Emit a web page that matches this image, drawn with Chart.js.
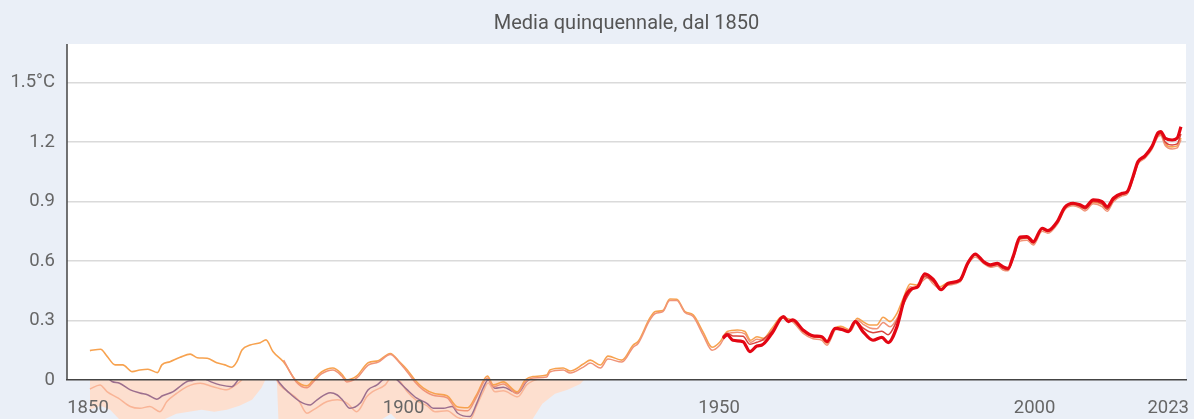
<!DOCTYPE html>
<html lang="it">
<head>
<meta charset="utf-8">
<title>Media quinquennale, dal 1850</title>
<script src="https://cdn.jsdelivr.net/npm/chart.js@4/dist/chart.umd.min.js"></script>
<style>
  html, body { margin: 0; padding: 0; background: #eaeff7; }
  #box { width: 1194px; height: 419px; position: relative; }
</style>
</head>
<body>
<div id="box"><canvas id="grafico"></canvas></div>
<script>
// anomalie medie su 5 anni (°C)
const anniArancio = [1850.3,1852,1853,1854.3,1855.5,1857,1858.2,1859.5,1861,1861.7,1863,1864.6,1866.2,1867.3,1868.9,1870.4,1871.7,1872.8,1873.6,1874.4,1875.7,1877.3,1878.2,1879.3,
  1881,1883,1884.7,1885.7,1887,1888.8,1890.2,1891,1892.6,1894.4,1896,1897.9,1899.4,1900.6,1901.8,1903.1,1905,1906.9,1908.5,1910.2,
  1911.5,1913.3,1914.2,1915.8,1918,1919.3,1920.5,1922.7,1923.2,1925.3,1926.4,1928.5,1929.6,1931.2,1932.4,1934.6,1936.4,1937.2,1939,1939.9,
  1941.1,1942.2,1943.3,1944.6,1945.9,1947.5,1948.9,1950.1,1951.3,1952.9,1954.1,1955,1956,1957,1958.4,1960,1960.8,1961.7,1963.3,1964.9,
  1966.3,1967.1,1968.4,1969.3,1970.8,1971.9,1972.8,1973.9,1975,1976,1977.1,1978.2,1979.2,1980.3,1981.3,1982.3,1983,1983.9,1985,1986.3,
  1988.2,1989.4,1990.6,1991.9,1993,1994.1,1995,1995.8,1996.6,1997.7,1998.8,1999.8,2001.2,2002.1,2003.6,2004.8,2006.1,2007.2,2008,2009.3,
  2010.7,2011.5,2012.5,2013.9,2014.7,2015.6,2016.4,2017.5,2018.6,2019.6,2020,2020.7,2021.8,2022.6,2023.2];
const valoriArancio = [0.148,0.155,0.12,0.076,0.076,0.042,0.05,0.054,0.037,0.076,0.092,0.114,0.13,0.112,0.109,0.087,0.076,0.064,0.092,0.151,0.176,0.188,0.202,0.143,
  0.09,-0.005,-0.03,0,0.04,0.06,0.03,0,0.02,0.087,0.097,0.133,0.09,0.05,0,-0.04,-0.07,-0.08,-0.135,-0.14,
  -0.08,0.02,-0.025,-0.01,-0.06,0,0.017,0.025,0.05,0.06,0.045,0.08,0.1,0.075,0.12,0.1,0.176,0.195,0.31,0.345,
  0.35,0.408,0.407,0.345,0.328,0.24,0.165,0.19,0.244,0.252,0.244,0.2,0.218,0.21,0.26,0.319,0.31,0.3,0.244,0.218,
  0.21,0.185,0.26,0.27,0.252,0.311,0.294,0.277,0.277,0.316,0.294,0.336,0.412,0.484,0.479,0.513,0.53,0.496,0.47,0.49,
  0.5,0.59,0.63,0.595,0.575,0.585,0.565,0.56,0.62,0.71,0.715,0.69,0.76,0.75,0.795,0.865,0.885,0.875,0.865,0.895,
  0.885,0.86,0.905,0.935,0.945,1.02,1.095,1.125,1.17,1.235,1.24,1.19,1.175,1.18,1.22];

// la serie salmone parte dal 1881, stessi anni della serie arancio
const anniSalmone = anniArancio.slice(24);
const valoriSalmone = [0.1,-0.01,-0.04,-0.01,0.03,0.05,0.02,-0.01,0.01,0.075,0.09,0.128,0.085,0.04,-0.01,-0.05,-0.08,-0.09,-0.15,-0.155,
  -0.09,0.01,-0.035,-0.02,-0.07,-0.01,0.01,0.015,0.04,0.05,0.035,0.065,0.085,0.06,0.105,0.09,0.165,0.185,0.3,0.335,
  0.345,0.4,0.4,0.34,0.32,0.225,0.15,0.175,0.232,0.24,0.232,0.19,0.205,0.2,0.25,0.312,0.302,0.292,0.236,0.208,
  0.2,0.175,0.252,0.262,0.245,0.302,0.282,0.262,0.258,0.29,0.268,0.31,0.39,0.47,0.465,0.5,0.515,0.485,0.46,0.478,
  0.494,0.58,0.62,0.588,0.568,0.574,0.554,0.55,0.61,0.7,0.705,0.68,0.75,0.74,0.785,0.858,0.878,0.868,0.852,0.888,
  0.874,0.85,0.898,0.928,0.938,1.012,1.088,1.118,1.163,1.228,1.232,1.182,1.165,1.17,1.212];

// serie rosse dal 1950
const anniRossi = [1950.6,1951.3,1952.2,1953.8,1954.9,1956,1956.8,1958.4,1960.2,1961,1961.7,1963.3,1964.9,1966.3,1967.1,1968.4,1969.7,1970.5,1971.6,1972.8,
  1974.4,1975.8,1976.8,1978.2,1979.5,1980.6,1981.5,1982.6,1984,1985.2,1986.3,1988.2,1989.4,1990.6,1991.9,1993,1994.1,1995,1995.8,1996.6,
  1997.7,1998.8,1999.8,2001.2,2002.1,2003.6,2004.8,2006.1,2007.2,2008,2009.3,2010.7,2011.5,2012.5,2013.9,2014.7,2015.6,2016.4,2017.5,2018.6,
  2019.6,2020,2020.7,2021.8,2022.6,2023.2];
const valoriRosso = [0.21,0.227,0.2,0.193,0.143,0.171,0.176,0.235,0.319,0.294,0.303,0.252,0.222,0.218,0.193,0.26,0.252,0.244,0.294,0.244,
  0.2,0.215,0.188,0.269,0.42,0.46,0.47,0.535,0.505,0.455,0.488,0.504,0.588,0.635,0.597,0.58,0.588,0.571,0.563,0.622,
  0.72,0.723,0.697,0.765,0.753,0.798,0.871,0.891,0.883,0.871,0.908,0.899,0.874,0.916,0.941,0.95,1.025,1.101,1.13,1.177,
  1.247,1.252,1.219,1.21,1.219,1.277];
const valoriRossoScuro = [0.22,0.235,0.222,0.22,0.18,0.19,0.2,0.245,0.316,0.296,0.3,0.25,0.22,0.215,0.19,0.258,0.25,0.245,0.298,0.262,
  0.238,0.245,0.228,0.3,0.4,0.455,0.47,0.522,0.495,0.455,0.482,0.5,0.585,0.63,0.594,0.576,0.582,0.562,0.556,0.615,
  0.712,0.716,0.69,0.76,0.748,0.792,0.866,0.886,0.876,0.862,0.9,0.888,0.862,0.908,0.936,0.946,1.02,1.095,1.125,1.17,
  1.24,1.243,1.2,1.185,1.19,1.24];

// serie visibili solo sotto lo zero
const anniViola = [1850.3,1852,1853.8,1855,1856.7,1858.2,1859.5,1860.9,1861.8,1863.5,1864.9,1865.7,1866.6,1868,1869.5,1870.9,1872.8,1873.6,1875,1877,
  1878.5,1880.4,1881.9,1883.6,1885.2,1886.3,1888.4,1889.5,1890.3,1891.5,1893.1,1894.4,1895.8,1896.7,1898,1899,1900.6,1902.1,1903.7,1904.7,
  1906.3,1907.7,1908.6,1910.5,1911.6,1912.6,1913.4,1914.5,1915.8,1917.4,1918.1,1919.5,1920.5,1923,1926,1930];
const valoriViola = [0.03,0.04,-0.008,-0.017,-0.05,-0.066,-0.076,-0.097,-0.08,-0.059,-0.025,-0.008,-0.003,0.01,-0.01,-0.025,-0.034,-0.008,0.06,0.1,
  0.08,-0.017,-0.066,-0.109,-0.126,-0.1,-0.064,-0.076,-0.1,-0.143,-0.118,-0.05,-0.025,0,0.03,0,-0.05,-0.092,-0.118,-0.143,
  -0.143,-0.134,-0.168,-0.185,-0.118,-0.042,0,-0.042,-0.037,-0.059,-0.067,-0.008,0.01,0.03,0.05,0.08];

const anniPesca = [1850.3,1851.9,1853,1854.8,1856.7,1858.2,1859.8,1861.4,1862.5,1864.1,1865.7,1867.8,1869.8,1872,1873,1874.1,1876,1878,1880.4,1883.3,
  1884.7,1885.7,1887.9,1889.5,1891.1,1892.6,1894.2,1895.1,1897.1,1898,1899.5,1900.6,1902.1,1903.7,1905,1906.9,1908.6,1910.5,1911.6,1912.6,
  1913.4,1914.5,1915.8,1918.1,1919.5,1920.5,1922,1926,1930];
const valoriPesca = [-0.046,-0.025,-0.059,-0.092,-0.134,-0.143,-0.134,-0.16,-0.109,-0.067,-0.034,-0.017,-0.034,-0.05,-0.034,-0.008,0.06,0.09,-0.025,-0.1,
  -0.168,-0.151,-0.109,-0.1,-0.118,-0.16,-0.084,-0.059,-0.025,0.01,-0.01,-0.06,-0.105,-0.13,-0.16,-0.155,-0.19,-0.2,-0.13,-0.06,
  -0.015,-0.06,-0.055,-0.085,-0.025,-0.005,0.01,0.04,0.07];

// limite inferiore della fascia di incertezza
const anniFascia = [1850.3,1852,1853.5,1855,1856.5,1858,1860,1862,1864,1866,1868,1870,1872,1874,1876,1877.5,1878.4,1879.9,1880.3,1895,
  1896.5,1898,1899.5,1901,1912,1913,1914,1918,1920,1922,1924,1926,1928,1929.5];
const valoriFascia = [-0.15,-0.13,-0.15,-0.2,-0.25,-0.26,-0.24,-0.2,-0.17,-0.16,-0.15,-0.16,-0.15,-0.13,-0.1,-0.04,0.02,0.02,-0.3,-0.3,
  -0.2,-0.17,-0.22,-0.32,-0.32,-0.2,-0.32,-0.3,-0.22,-0.12,-0.07,-0.05,-0.02,0.03];

const tickAnni = [1850, 1900, 1950, 2000, 2023];
const tickGradi = [0, 0.3, 0.6, 0.9, 1.2, 1.5];

const FONT = 'Roboto, "Noto Sans", sans-serif';

function punti(anni, valori) {
  return anni.map((a, i) => ({ x: a, y: valori[i] }));
}

function linea(label, anni, valori, colore, spessore, extra) {
  return Object.assign({
    label: label,
    data: punti(anni, valori),
    borderColor: colore,
    borderWidth: spessore,
    pointRadius: 0,
    fill: false,
    cubicInterpolationMode: 'monotone',
    borderJoinStyle: 'round'
  }, extra || {});
}

// sfondo grigio-azzurro, area bianca sopra lo zero, asse verticale
const sfondo = {
  id: 'sfondo',
  beforeDraw(chart) {
    const { ctx, chartArea: a } = chart;
    const y0 = chart.scales.y.getPixelForValue(0);
    ctx.save();
    ctx.fillStyle = '#eaeff7';
    ctx.fillRect(0, 0, chart.width, chart.height);
    ctx.fillStyle = '#ffffff';
    ctx.fillRect(a.left, a.top, a.right - a.left, y0 - a.top);
    ctx.restore();
  },
  afterDraw(chart) {
    const { ctx, chartArea: a } = chart;
    const y0 = chart.scales.y.getPixelForValue(0);
    ctx.save();
    ctx.strokeStyle = '#444';
    ctx.lineWidth = 1.5;
    ctx.beginPath();
    ctx.moveTo(a.left, a.top);
    ctx.lineTo(a.left, y0);
    ctx.stroke();
    ctx.restore();
  }
};

// alcune serie stanno dietro l'area bianca: si vedono solo sotto lo zero
const sottoZero = {
  id: 'sottoZero',
  beforeDatasetDraw(chart, args) {
    if (!chart.data.datasets[args.index].soloSotto) return;
    const a = chart.chartArea;
    const y0 = chart.scales.y.getPixelForValue(0);
    chart.ctx.save();
    chart.ctx.beginPath();
    chart.ctx.rect(a.left, y0, a.right - a.left, chart.height - y0);
    chart.ctx.clip();
  },
  afterDatasetDraw(chart, args) {
    if (chart.data.datasets[args.index].soloSotto) chart.ctx.restore();
  }
};

new Chart(document.getElementById('grafico'), {
  type: 'line',
  data: {
    datasets: [
      linea('Rosso', anniRossi, valoriRosso, '#e30613', 3.2),
      linea('Rosso scuro', anniRossi, valoriRossoScuro, '#d9423b', 1.5),
      linea('Salmone', anniSalmone, valoriSalmone, '#f09478', 1.5),
      linea('Arancio', anniArancio, valoriArancio, '#f7a24f', 1.6),
      linea('Viola', anniViola, valoriViola, '#9c6f8e', 1.5, { soloSotto: true }),
      linea('Pesca', anniPesca, valoriPesca, '#f9b496', 1.5, { soloSotto: true }),
      {
        label: 'Incertezza',
        data: punti(anniFascia, valoriFascia),
        borderWidth: 0,
        borderColor: 'rgba(0,0,0,0)',
        pointRadius: 0,
        tension: 0,
        fill: { target: { value: 0 }, above: 'rgba(0,0,0,0)', below: '#fddfcf' }
      }
    ]
  },
  options: {
    responsive: true,
    maintainAspectRatio: false,
    animation: false,
    layout: { padding: { left: 0, right: 8, top: 0, bottom: 0 } },
    plugins: {
      legend: { display: false },
      tooltip: { enabled: false },
      title: {
        display: true,
        text: 'Media quinquennale, dal 1850',
        color: '#555',
        fullSize: false,
        font: { family: FONT, size: 20, weight: 'normal' },
        padding: { top: 12, bottom: 8 }
      }
    },
    scales: {
      x: {
        type: 'linear',
        position: { y: 0 },
        min: 1846.67,
        max: 2024,
        z: 1,
        grid: { display: false, drawTicks: false },
        border: { display: true, color: '#444', width: 1.5, z: 1 },
        afterBuildTicks: s => { s.ticks = tickAnni.map(v => ({ value: v })); },
        afterFit: s => { s.paddingLeft = 0; s.paddingRight = 0; },
        ticks: {
          z: 1,
          autoSkip: false,
          maxRotation: 0,
          padding: 17,
          color: '#666',
          font: { family: FONT, size: 18.5 },
          // spazi finali: tengono l'ultima etichetta dentro la tela
          callback: v => v === 2023 ? '2023     ' : String(v)
        }
      },
      y: {
        type: 'linear',
        min: -0.197,
        max: 1.694,
        grid: {
          drawTicks: false,
          color: c => c.tick && c.tick.value === 0 ? 'rgba(0,0,0,0)' : '#dadada',
          lineWidth: 1.5
        },
        border: { display: false },
        afterBuildTicks: s => { s.ticks = tickGradi.map(v => ({ value: v })); },
        afterFit: s => { s.width = 67; s.paddingTop = 0; s.paddingBottom = 0; },
        ticks: {
          padding: 12,
          color: '#666',
          font: { family: FONT, size: 18.5 },
          callback: v => {
            const r = Math.round(v * 10) / 10;
            if (r === 1.5) return '1.5°C';
            return r === 0 ? '0' : String(r);
          }
        }
      }
    }
  },
  plugins: [sfondo, sottoZero]
});
</script>
</body>
</html>
